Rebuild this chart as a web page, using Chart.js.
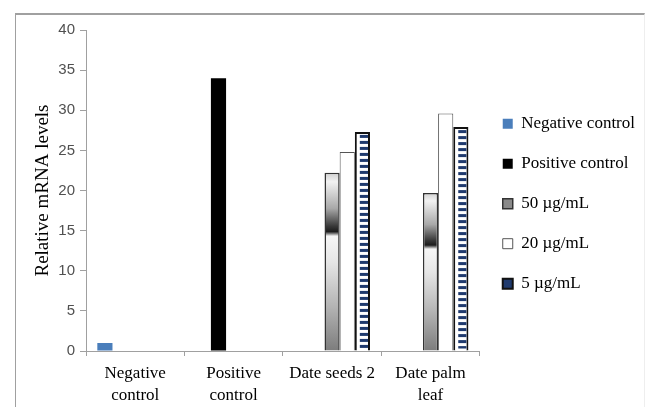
<!DOCTYPE html>
<html>
  <head>
    <meta charset="UTF-8" />
    <title>Relative mRNA levels</title>
    <script src="https://cdn.jsdelivr.net/npm/chart.js@4.4.0/dist/chart.umd.min.js"></script>
    <style>
      body { margin: 0; background: #fff; }
      #wrap { position: relative; width: 645px; height: 407px; }
      #frame {
        position: absolute; left: 15px; top: 13px; right: 0; bottom: -5px;
        border-left: 1px solid #a0a0a0; border-top: 2px solid #a0a0a0;
        border-right: 1px solid #eee; pointer-events: none;
      }
    </style>
  </head>
  <body>
    <div id="wrap">
      <canvas id="chart" width="645" height="407"></canvas>
      <div id="frame"></div>
    </div>
    <script>
      const categories = [["Negative", "control"], ["Positive", "control"], "Date seeds 2", ["Date palm", "leaf"]];
      const negativeControl = [1.0, null, null, null];
      const positiveControl = [null, 34.0, null, null];
      const dose50 = [null, null, 22.2, 19.7];
      const dose20 = [null, null, 24.8, 29.6];
      const dose5 = [null, null, 27.3, 27.9];
      const yTicks = [0, 5, 10, 15, 20, 25, 30, 35, 40];

      const serif = "'Liberation Serif', 'Times New Roman', serif";

      // vertical gradient for the 50 ug/mL bars
      function gradFill(ctx) {
        const chart = ctx.chart;
        if (!chart.chartArea || ctx.raw == null) return "#8a8a8a";
        const y = chart.scales.y;
        const top = y.getPixelForValue(ctx.raw);
        const base = y.getPixelForValue(0);
        const g = chart.ctx.createLinearGradient(0, top, 0, base);
        g.addColorStop(0, "#d0d0d0");
        g.addColorStop(0.05, "#f2f2f2");
        g.addColorStop(0.2, "#a8a8a8");
        g.addColorStop(0.3, "#383838");
        g.addColorStop(0.33, "#1c1c1c");
        g.addColorStop(0.355, "#f6f6f6");
        g.addColorStop(0.5, "#e6e6e6");
        g.addColorStop(0.75, "#b4b4b4");
        g.addColorStop(1, "#7c7c7c");
        return g;
      }

      // navy dashes inside the 5 ug/mL bars
      const stripes = {
        id: "stripes",
        afterDatasetsDraw(chart) {
          const meta = chart.getDatasetMeta(4);
          const c = chart.ctx;
          c.save();
          c.fillStyle = "#1f3a6e";
          meta.data.forEach((bar) => {
            const p = bar.getProps(["x", "y", "base", "width"], true);
            if (p.y == null || isNaN(p.y) || p.base - p.y < 4) return;
            const left = p.x - p.width / 2;
            const right = p.x + p.width / 2;
            for (let yy = p.y + 3; yy < p.base - 2; yy += 6) {
              c.fillRect(left + 5, yy, right - left - 7, Math.min(3, p.base - 2 - yy));
            }
          });
          c.restore();
        }
      };

      const config = {
        type: "bar",
        data: {
          labels: categories,
          datasets: [
            { label: "Negative control", data: negativeControl, backgroundColor: "#4a7ebb", borderWidth: 0 },
            { label: "Positive control", data: positiveControl, backgroundColor: "#000000", borderWidth: 0 },
            { label: "50 \u00b5g/mL", data: dose50, backgroundColor: gradFill, borderColor: "#333333", borderWidth: 1.5 },
            { label: "20 \u00b5g/mL", data: dose20, backgroundColor: "#ffffff", borderColor: "#555555", borderWidth: 1 },
            { label: "5 \u00b5g/mL", data: dose5, backgroundColor: "#ffffff", borderColor: "#111111", borderWidth: 2 }
          ]
        },
        options: {
          responsive: false,
          animation: false,
          layout: { padding: { left: 32, top: 30, right: 0, bottom: 0 } },
          datasets: {
            bar: { categoryPercentage: 0.77, barPercentage: 1.0, borderSkipped: "bottom" }
          },
          scales: {
            x: {
              afterFit(axis) { axis.height = 56; },
              grid: { display: true, offset: true, drawOnChartArea: false, color: "#a0a0a0", tickLength: 5 },
              border: { color: "#a0a0a0" },
              ticks: { color: "#000", font: { family: serif, size: 17, lineHeight: 1.3 }, padding: 6, maxRotation: 0 }
            },
            y: {
              min: 0,
              max: 40,
              afterBuildTicks(axis) { axis.ticks = yTicks.map((v) => ({ value: v })); },
              afterFit(axis) { axis.width = 54; },
              grid: { display: true, drawOnChartArea: false, color: "#a0a0a0", tickLength: 6 },
              border: { color: "#a0a0a0" },
              ticks: { color: "#505050", font: { family: "'Liberation Sans', Arial, sans-serif", size: 15 }, padding: 5 },
              title: { display: true, text: "Relative mRNA levels", color: "#000", font: { family: serif, size: 19 }, padding: 0 }
            }
          },
          plugins: {
            tooltip: { enabled: false },
            legend: {
              position: "right",
              fullSize: false,
              maxWidth: 170,
              title: { display: true, text: "", padding: 6 },
              labels: {
                color: "#000",
                font: { family: serif, size: 17 },
                boxWidth: 10,
                boxHeight: 10,
                padding: 23,
                generateLabels(chart) {
                  const items = Chart.defaults.plugins.legend.labels.generateLabels(chart);
                  items[2].fillStyle = "#8a8a8a";
                  items[4].fillStyle = "#1f3a6e";
                  return items;
                }
              }
            }
          }
        },
        plugins: [stripes]
      };

      new Chart(document.getElementById("chart"), config);
    </script>
  </body>
</html>
